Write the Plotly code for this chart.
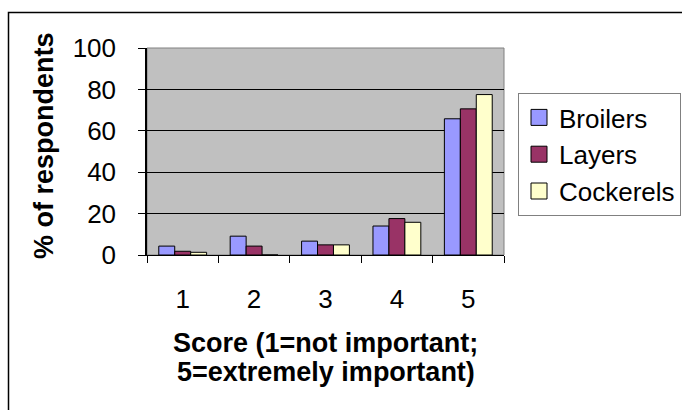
import plotly.graph_objects as go

# Survey results: importance score given by respondents, per flock type
scores = ["1", "2", "3", "4", "5"]
broilers = [4.3, 9.1, 6.7, 14.0, 65.8]
layers = [1.8, 4.3, 4.9, 17.6, 70.6]
cockerels = [1.3, 0.0, 4.9, 15.8, 77.5]

series = [
    ("Broilers", broilers, "#9999FF"),
    ("Layers", layers, "#993366"),
    ("Cockerels", cockerels, "#FFFFCC"),
]

W, H = 682, 410
# plot-area box in pixels
PL, PR, PT, PB = 147, 504, 48, 255
pw, ph = PR - PL, PB - PT


def px_x(x):
    return (x - PL) / pw


def px_y(y):
    return (PB - y) / ph


FONT = "Liberation Sans, Arial, sans-serif"

fig = go.Figure()
for name, vals, color in series:
    fig.add_trace(go.Bar(
        x=scores, y=vals, name=name, legendgroup=name, showlegend=False,
        marker=dict(color=color, line=dict(color="black", width=1)),
    ))
# larger square swatches for the legend
for name, vals, color in series:
    fig.add_trace(go.Scatter(
        x=[None], y=[None], name=name, legendgroup=name, mode="markers",
        marker=dict(symbol="square", size=16, color=color,
                    line=dict(color="black", width=1)),
    ))

fig.update_layout(
    width=W, height=H,
    margin=dict(l=PL, r=W - PR, t=PT, b=H - PB, pad=0, autoexpand=False),
    paper_bgcolor="white",
    plot_bgcolor="#C0C0C0",
    barmode="group",
    bargap=0.33,
    bargroupgap=0,
    font=dict(family=FONT, color="black", size=26),
    showlegend=True,
    legend=dict(
        x=px_x(518), y=px_y(93), xanchor="left", yanchor="top",
        bordercolor="#808080", borderwidth=1, bgcolor="white",
        font=dict(family=FONT, size=26, color="black"),
        tracegroupgap=0, itemwidth=30,
    ),
    xaxis=dict(
        showline=True, linecolor="black", linewidth=1,
        ticks="outside", tickson="boundaries", ticklen=7, tickcolor="black",
        tickfont=dict(size=26), ticklabelstandoff=21,
        showgrid=False, zeroline=False, fixedrange=True,
    ),
    yaxis=dict(
        range=[0, 100], dtick=20, tick0=0,
        showline=True, linecolor="black", linewidth=1.5,
        ticks="outside", ticklen=7, tickcolor="black",
        tickfont=dict(size=26), ticklabelstandoff=17,
        showgrid=True, gridcolor="black", gridwidth=1,
        zeroline=False, fixedrange=True,
    ),
)

# plot-area frame and outer chart border
fig.add_shape(type="rect", xref="paper", yref="paper",
              x0=0, x1=1, y0=0, y1=1,
              line=dict(color="#808080", width=1), layer="below")
fig.add_shape(type="rect", xref="paper", yref="paper",
              x0=px_x(8.5), x1=px_x(690), y0=px_y(420), y1=px_y(12.5),
              line=dict(color="black", width=1.5))

# axis titles
fig.add_annotation(text="<b>% of respondents</b>", xref="paper", yref="paper",
                   x=px_x(44), y=px_y(146), textangle=-90, showarrow=False,
                   xanchor="center", yanchor="middle",
                   font=dict(family=FONT, size=27, color="black"))
fig.add_annotation(text="<b>Score (1=not important;</b>", xref="paper", yref="paper",
                   x=px_x(325.5), y=px_y(343), showarrow=False,
                   xanchor="center", yanchor="middle",
                   font=dict(family=FONT, size=27, color="black"))
fig.add_annotation(text="<b>5=extremely important)</b>", xref="paper", yref="paper",
                   x=px_x(325.5), y=px_y(372), showarrow=False,
                   xanchor="center", yanchor="middle",
                   font=dict(family=FONT, size=27, color="black"))

fig.write_html("out.html", config={"displayModeBar": False})
